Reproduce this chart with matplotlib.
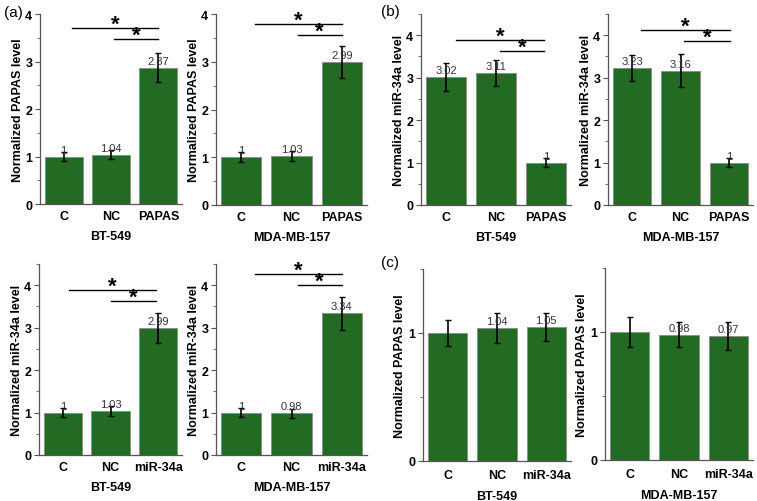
import matplotlib
matplotlib.use("Agg")
import matplotlib.pyplot as plt
from matplotlib.ticker import MultipleLocator

plt.rcParams['font.family'] = ['Liberation Sans', 'DejaVu Sans']

groups_papas = ["C", "NC", "PAPAS"]
groups_mir = ["C", "NC", "miR-34a"]
cell_lines = ["BT-549", "MDA-MB-157"]

# (a) PAPAS level after PAPAS overexpression
a_bt_vals = [1.00, 1.04, 2.87]
a_bt_err = [0.10, 0.10, 0.30]
a_mda_vals = [1.00, 1.03, 2.99]
a_mda_err = [0.10, 0.10, 0.34]

# (b) miR-34a level after PAPAS overexpression
b_bt_vals = [3.02, 3.11, 1.00]
b_bt_err = [0.33, 0.30, 0.10]
b_mda_vals = [3.23, 3.16, 1.00]
b_mda_err = [0.30, 0.39, 0.10]

# bottom left: miR-34a level after miR-34a mimic
d_bt_vals = [1.00, 1.03, 2.99]
d_bt_err = [0.10, 0.12, 0.35]
d_mda_vals = [1.00, 0.98, 3.34]
d_mda_err = [0.10, 0.10, 0.39]

# (c) PAPAS level after miR-34a mimic
c_bt_vals = [1.00, 1.04, 1.05]
c_bt_err = [0.105, 0.12, 0.11]
c_mda_vals = [1.00, 0.98, 0.97]
c_mda_err = [0.12, 0.10, 0.11]

value_labels = {
    "a_bt": ["1", "1.04", "2.87"], "a_mda": ["1", "1.03", "2.99"],
    "b_bt": ["3.02", "3.11", "1"], "b_mda": ["3.23", "3.16", "1"],
    "d_bt": ["1", "1.03", "2.99"], "d_mda": ["1", "0.98", "3.34"],
    "c_bt": ["", "1.04", "1.05"], "c_mda": ["", "0.98", "0.97"],
}

# significance brackets: (x_start, x_end, y)
sig_a_bt = [(0.18, 2.0, 3.70), (1.06, 2.0, 3.47)]
sig_a_mda = [(0.28, 2.0, 3.79), (1.12, 2.0, 3.56)]
sig_b_bt = [(0.20, 1.96, 3.88), (1.08, 1.96, 3.62)]
sig_b_mda = [(0.19, 2.02, 4.12), (1.08, 2.02, 3.86)]
sig_d_bt = [(0.12, 1.95, 3.88), (1.0, 1.95, 3.62)]
sig_d_mda = [(0.28, 2.0, 4.26), (1.12, 2.0, 4.00)]

BAR = "#236b23"
W, H = 757, 502

def rect(l, r, b, t):
    return [l / W, 1 - b / H, (r - l) / W, (b - t) / H]

fig = plt.figure(figsize=(7.57, 5.02), dpi=100)

panels = [
    (rect(40, 182, 205, 15), groups_papas, a_bt_vals, a_bt_err, "a_bt", sig_a_bt, 4.0, "Normalized PAPAS level", cell_lines[0]),
    (rect(216, 367, 206, 15), groups_papas, a_mda_vals, a_mda_err, "a_mda", sig_a_mda, 4.0, "Normalized PAPAS level", cell_lines[1]),
    (rect(421, 571, 206, 15), groups_papas, b_bt_vals, b_bt_err, "b_bt", sig_b_bt, 4.5, "Normalized miR-34a level", cell_lines[0]),
    (rect(608, 753, 206, 15), groups_papas, b_mda_vals, b_mda_err, "b_mda", sig_b_mda, 4.5, "Normalized miR-34a level", cell_lines[1]),
    (rect(39, 182, 456, 265), groups_mir, d_bt_vals, d_bt_err, "d_bt", sig_d_bt, 4.5, "Normalized miR-34a level", cell_lines[0]),
    (rect(216, 367, 456, 265), groups_mir, d_mda_vals, d_mda_err, "d_mda", sig_d_mda, 4.5, "Normalized miR-34a level", cell_lines[1]),
    (rect(423, 571, 462, 270), groups_mir, c_bt_vals, c_bt_err, "c_bt", [], 1.5, "Normalized PAPAS level", cell_lines[0]),
    (rect(605, 753, 461, 269), groups_mir, c_mda_vals, c_mda_err, "c_mda", [], 1.5, "Normalized PAPAS level", cell_lines[1]),
]

for pos, cats, vals, errs, key, sigs, ytop, ylab, xlab in panels:
    ax = fig.add_axes(pos)
    x = list(range(len(cats)))
    ax.bar(x, vals, width=0.8, color=BAR, edgecolor="#8a8a8a", linewidth=0.6, zorder=2)
    ax.errorbar(x, vals, yerr=errs, fmt="none", ecolor="black", elinewidth=1.2,
                capsize=2.5, capthick=1.0, zorder=3)
    for xi, v, lab in zip(x, vals, value_labels[key]):
        if lab:
            ax.text(xi, v + 0.01 * ytop, lab, ha="center", va="bottom", fontsize=8, color="#333333", zorder=4)
    for x0, x1, y in sigs:
        ax.plot([x0, x1], [y, y], color="black", lw=1.0, zorder=4)
        ax.annotate("*", ((x0 + x1) / 2, y), xytext=(0, -1.2), textcoords="offset points",
                    ha="center", va="baseline", fontsize=16, fontweight="bold")
    ax.set_xlim(-0.5, 2.5)
    ax.set_ylim(0, ytop)
    ax.yaxis.set_major_locator(MultipleLocator(1))
    ax.yaxis.set_minor_locator(MultipleLocator(0.5))
    ax.set_xticks(x)
    ax.set_xticklabels(cats, fontsize=9, fontweight="bold")
    for t in ax.get_yticklabels():
        t.set_fontsize(9)
        t.set_fontweight("bold")
    ax.spines["top"].set_visible(False)
    ax.spines["right"].set_visible(False)
    for s in ("left", "bottom"):
        ax.spines[s].set_color("#555555")
        ax.spines[s].set_linewidth(0.9)
    ax.tick_params(axis="y", which="major", direction="out", length=3.5, color="#555555", pad=2)
    ax.tick_params(axis="y", which="minor", direction="out", length=2, color="#555555")
    ax.tick_params(axis="x", length=0, pad=4 if ytop > 2 else 6)
    ax.set_ylabel(ylab, fontsize=9, fontweight="bold", labelpad=1 if ytop > 2 else 2)
    ax.set_xlabel(xlab, fontsize=9, fontweight="bold", labelpad=6)

fig.text(4 / W, 1 - 13 / H, "(a)", fontsize=11, va="center", ha="left")
fig.text(381 / W, 1 - 12 / H, "(b)", fontsize=11, va="center", ha="left")
fig.text(381 / W, 1 - 263 / H, "(c)", fontsize=11, va="center", ha="left")

fig.savefig("out.png", dpi=100)
